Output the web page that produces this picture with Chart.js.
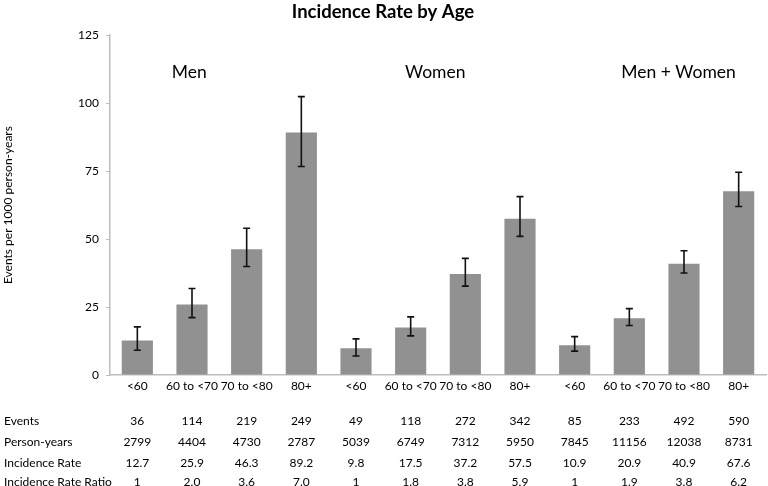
<!DOCTYPE html>
<html>
<head>
<meta charset="utf-8">
<script src="https://cdn.jsdelivr.net/npm/chart.js@4"></script>
<style>
  html, body { margin: 0; padding: 0; background: #fff; }
  #wrap { width: 768px; height: 486px; }
</style>
</head>
<body>
<div id="wrap"><canvas id="c"></canvas></div>
<script>
const ageLabels = ["<60", "60 to <70", "70 to <80", "80+", "<60", "60 to <70", "70 to <80", "80+", "<60", "60 to <70", "70 to <80", "80+"];
const groupNames = ["Men", "Women", "Men + Women"];
const rates = [12.7, 25.9, 46.3, 89.2, 9.8, 17.5, 37.2, 57.5, 10.9, 20.9, 40.9, 67.6];
const ciLow = [9.1, 21.1, 39.9, 76.7, 7.0, 14.4, 32.7, 51.0, 8.8, 18.2, 37.5, 62.0];
const ciHigh = [17.7, 31.8, 54.0, 102.4, 13.3, 21.4, 42.9, 65.6, 14.1, 24.4, 45.7, 74.6];
const events = ["36", "114", "219", "249", "49", "118", "272", "342", "85", "233", "492", "590"];
const personYears = ["2799", "4404", "4730", "2787", "5039", "6749", "7312", "5950", "7845", "11156", "12038", "8731"];
const rateText = ["12.7", "25.9", "46.3", "89.2", "9.8", "17.5", "37.2", "57.5", "10.9", "20.9", "40.9", "67.6"];
const ratioText = ["1", "2.0", "3.6", "7.0", "1", "1.8", "3.8", "5.9", "1", "1.9", "3.8", "6.2"];
const yTicks = [0, 25, 50, 75, 100, 125];

const FONT = "Lato, 'Open Sans', sans-serif";

// error bars drawn from ciLow/ciHigh on the bar x positions
const errorBars = {
  id: "errorBars",
  afterDatasetsDraw(chart) {
    const ctx = chart.ctx;
    const y = chart.scales.y;
    const bars = chart.getDatasetMeta(0).data;
    ctx.save();
    ctx.strokeStyle = "#111";
    ctx.lineWidth = 1.6;
    bars.forEach((bar, i) => {
      const x = bar.x;
      const top = y.getPixelForValue(ciHigh[i]);
      const bot = y.getPixelForValue(ciLow[i]);
      ctx.beginPath();
      ctx.moveTo(x, top); ctx.lineTo(x, bot);
      ctx.moveTo(x - 3.5, top); ctx.lineTo(x + 3.5, top);
      ctx.moveTo(x - 3.5, bot); ctx.lineTo(x + 3.5, bot);
      ctx.stroke();
    });
    ctx.restore();
  }
};

// group names above the bars and data table below
const extras = {
  id: "extras",
  afterDraw(chart) {
    const ctx = chart.ctx;
    const x = chart.scales.x;
    ctx.save();
    ctx.fillStyle = "#000";
    ctx.textBaseline = "middle";
    ctx.font = "17.5px " + FONT;
    ctx.textAlign = "center";
    const groupAt = [0.95, 5.45, 9.9];
    groupNames.forEach((g, i) => ctx.fillText(g, x.getPixelForValue(groupAt[i]), 72));

    const rows = [
      ["Events", events, 421],
      ["Person-years", personYears, 442],
      ["Incidence Rate", rateText, 463],
      ["Incidence Rate Ratio", ratioText, 482]
    ];
    ctx.font = "12px " + FONT;
    rows.forEach(([label, vals, yy]) => {
      ctx.textAlign = "left";
      ctx.fillText(label, 4, yy);
      ctx.textAlign = "center";
      vals.forEach((v, i) => ctx.fillText(v, x.getPixelForValue(i), yy));
    });
    ctx.restore();
  }
};

new Chart(document.getElementById("c"), {
  type: "bar",
  data: {
    labels: ageLabels,
    datasets: [{
      data: rates,
      backgroundColor: "#919191",
      borderWidth: 0,
      categoryPercentage: 1,
      barPercentage: 0.57
    }]
  },
  options: {
    responsive: true,
    maintainAspectRatio: false,
    animation: false,
    layout: { padding: { top: 0, right: 2, bottom: 91, left: 0 } },
    plugins: {
      legend: { display: false },
      tooltip: { enabled: false },
      title: {
        display: true,
        text: "Incidence Rate by Age",
        color: "#000",
        font: { family: FONT, size: 18.5, weight: "bold" },
        padding: { top: 1, bottom: 12 }
      }
    },
    scales: {
      x: {
        grid: { display: false, drawTicks: false },
        border: { color: "#bdbdbd", width: 1.5 },
        ticks: { color: "#000", font: { family: FONT, size: 12 }, padding: 4, maxRotation: 0, autoSkip: false },
        afterFit(s) { s.height = 20; }
      },
      y: {
        min: 0,
        max: 125,
        afterBuildTicks(s) { s.ticks = yTicks.map(v => ({ value: v })); },
        grid: { drawOnChartArea: false, drawTicks: true, tickLength: 4, color: "#bdbdbd" },
        border: { color: "#bdbdbd", width: 1.5 },
        ticks: { color: "#000", font: { family: FONT, size: 12 }, padding: 7 },
        title: {
          display: true,
          text: "Events per 1000 person-years",
          color: "#000",
          font: { family: FONT, size: 12 },
          padding: { top: 1, bottom: 0 }
        },
        afterFit(s) { s.width = 110; }
      }
    }
  },
  plugins: [errorBars, extras]
});
</script>
</body>
</html>
